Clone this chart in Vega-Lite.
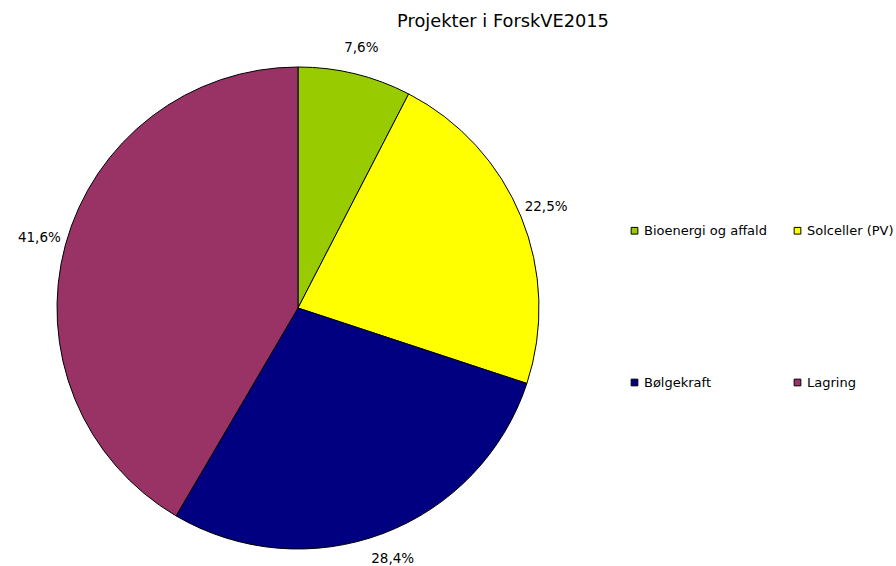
{
  "$schema": "https://vega.github.io/schema/vega-lite/v6.json",
  "autosize": "none",
  "padding": {"left": 0, "top": 50, "right": 300, "bottom": 0},
  "width": 596,
  "height": 516,
  "background": "white",
  "config": {"view": {"stroke": null}, "font": "DejaVu Sans"},
  "title": {
    "text": "Projekter i ForskVE2015",
    "font": "DejaVu Sans",
    "fontSize": 17.8,
    "fontWeight": "normal",
    "color": "#000000",
    "anchor": "middle",
    "dx": 205,
    "offset": 10
  },
  "data": {
    "values": [
      {"kategori": "Bioenergi og affald", "andel": 7.6, "label": "7,6%", "rk": 1},
      {"kategori": "Solceller (PV)", "andel": 22.5, "label": "22,5%", "rk": 2},
      {"kategori": "Bølgekraft", "andel": 28.4, "label": "28,4%", "rk": 3},
      {"kategori": "Lagring", "andel": 41.6, "label": "41,6%", "rk": 4}
    ]
  },
  "encoding": {
    "theta": {"field": "andel", "type": "quantitative", "stack": true},
    "order": {"field": "rk", "type": "quantitative"}
  },
  "layer": [
    {
      "mark": {"type": "arc", "outerRadius": 241, "stroke": "#000000", "strokeWidth": 1},
      "encoding": {
        "color": {
          "field": "kategori",
          "type": "nominal",
          "scale": {
            "domain": ["Bioenergi og affald", "Solceller (PV)", "Bølgekraft", "Lagring"],
            "range": ["#99CC00", "#FFFF00", "#000080", "#993366"]
          },
          "legend": {
            "title": null,
            "orient": "none",
            "direction": "horizontal",
            "legendX": 628,
            "legendY": 174,
            "columns": 2,
            "columnPadding": 24,
            "rowPadding": 138,
            "padding": 0,
            "symbolType": "square",
            "symbolSize": 45,
            "symbolStrokeColor": "#000000",
            "symbolStrokeWidth": 1,
            "symbolOpacity": 1,
            "labelFont": "DejaVu Sans",
            "labelFontSize": 13,
            "labelColor": "#000000",
            "labelOffset": 3
          }
        }
      }
    },
    {
      "mark": {"type": "text", "radius": 268, "font": "DejaVu Sans", "fontSize": 13.5, "color": "#000000", "align": "center", "baseline": "middle"},
      "encoding": {
        "text": {"field": "label", "type": "nominal"}
      }
    }
  ]
}
